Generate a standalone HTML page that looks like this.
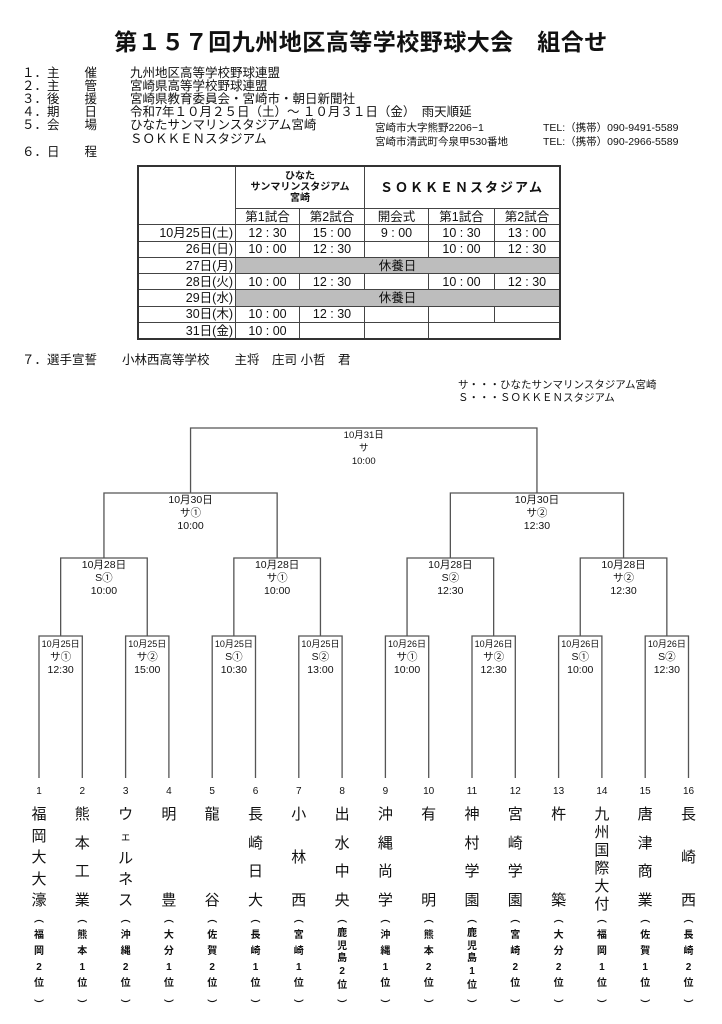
<!DOCTYPE html>
<html><head><meta charset="utf-8"><style>
body{margin:0;width:722px;height:1024px;background:#fff;position:relative;overflow:hidden;font-family:"Liberation Sans","Noto Sans CJK JP",sans-serif;color:#111}
.a{position:absolute;white-space:nowrap}
.t{font-size:12.5px;line-height:13px}
table{position:absolute;left:137px;top:165px;border-collapse:collapse;font-size:12.5px}
td{border:1px solid #444;padding:0;text-align:center;height:15.3px;line-height:14px}
.lbl{position:absolute;text-align:center;font-size:10.5px;line-height:13px;width:60px;background:transparent}
.nm{position:absolute;top:806px;height:104px;width:24px;display:flex;flex-direction:column;justify-content:space-between;align-items:center;font-size:15px;line-height:18px}
.pf{position:absolute;top:914px;height:98px;width:20px;display:flex;flex-direction:column;justify-content:space-between;align-items:center;font-size:10px;line-height:12px;font-weight:bold}
.num{position:absolute;top:786px;width:24px;text-align:center;font-size:10px}
</style></head><body>
<div class="a" style="left:0;width:722px;text-align:center;top:23px;font-size:23px;font-weight:bold;letter-spacing:0.5px">第１５７回九州地区高等学校野球大会　組合せ</div>
<div class="a t" style="left:22px;top:67px">１．主　　催</div><div class="a t" style="left:130px;top:67px">九州地区高等学校野球連盟</div>
<div class="a t" style="left:22px;top:80px">２．主　　管</div><div class="a t" style="left:130px;top:80px">宮崎県高等学校野球連盟</div>
<div class="a t" style="left:22px;top:93px">３．後　　援</div><div class="a t" style="left:130px;top:93px">宮崎県教育委員会・宮崎市・朝日新聞社</div>
<div class="a t" style="left:22px;top:106px">４．期　　日</div><div class="a t" style="left:130px;top:106px">令和7年１０月２５日（土）～ １０月３１日（金）　雨天順延</div>
<div class="a t" style="left:22px;top:119px">５．会　　場</div><div class="a t" style="left:130px;top:119px">ひなたサンマリンスタジアム宮崎</div>
<div class="a" style="left:375px;top:120px;font-size:10.5px">宮崎市大字熊野2206−1</div><div class="a" style="left:543px;top:120px;font-size:10.5px">TEL:（携帯）090-9491-5589</div>
<div class="a t" style="left:130px;top:133px">ＳＯＫＫＥＮスタジアム</div>
<div class="a" style="left:375px;top:134px;font-size:10.5px">宮崎市清武町今泉甲530番地</div><div class="a" style="left:543px;top:134px;font-size:10.5px">TEL:（携帯）090-2966-5589</div>
<div class="a t" style="left:22px;top:146px">６．日　　程</div>
<table>
<tr><td rowspan="2" style="width:96px;border-left:2px solid #333;border-top:2px solid #333"></td><td colspan="2" style="height:41px;font-size:10px;line-height:11px;font-weight:bold;border-top:2px solid #333">ひなた<br>サンマリンスタジアム<br>宮崎</td><td colspan="3" style="font-size:13px;font-weight:bold;letter-spacing:2px;border-top:2px solid #333;border-right:2px solid #333">ＳＯＫＫＥＮスタジアム</td></tr>
<tr><td style="width:63px">第1試合</td><td style="width:64px">第2試合</td><td style="width:63px">開会式</td><td style="width:65px">第1試合</td><td style="width:64px;border-right:2px solid #333">第2試合</td></tr>
<tr><td style="text-align:right;padding-right:2px;border-left:2px solid #333">10月25日(土)</td><td>12 : 30</td><td>15 : 00</td><td>9 : 00</td><td>10 : 30</td><td style="border-right:2px solid #333">13 : 00</td></tr>
<tr><td style="text-align:right;padding-right:2px;border-left:2px solid #333">26日(日)</td><td>10 : 00</td><td>12 : 30</td><td></td><td>10 : 00</td><td style="border-right:2px solid #333">12 : 30</td></tr>
<tr><td style="text-align:right;padding-right:2px;border-left:2px solid #333">27日(月)</td><td colspan="5" style="background:#bdbdbd;border-right:2px solid #333">休養日</td></tr>
<tr><td style="text-align:right;padding-right:2px;border-left:2px solid #333">28日(火)</td><td>10 : 00</td><td>12 : 30</td><td></td><td>10 : 00</td><td style="border-right:2px solid #333">12 : 30</td></tr>
<tr><td style="text-align:right;padding-right:2px;border-left:2px solid #333">29日(水)</td><td colspan="5" style="background:#bdbdbd;border-right:2px solid #333">休養日</td></tr>
<tr><td style="text-align:right;padding-right:2px;border-left:2px solid #333">30日(木)</td><td>10 : 00</td><td>12 : 30</td><td></td><td></td><td style="border-right:2px solid #333"></td></tr>
<tr><td style="text-align:right;padding-right:2px;border-left:2px solid #333;border-bottom:2px solid #333">31日(金)</td><td style="border-bottom:2px solid #333">10 : 00</td><td style="border-bottom:2px solid #333"></td><td style="border-bottom:2px solid #333"></td><td colspan="2" style="border-bottom:2px solid #333;border-right:2px solid #333"></td></tr>
</table>
<div class="a t" style="left:22px;top:354px">７．選手宣誓　　小林西高等学校　　主将　庄司 小哲　君</div>
<div class="a" style="left:458px;top:379px;font-size:10.5px;line-height:13px">サ・・・ひなたサンマリンスタジアム宮崎<br>Ｓ・・・ＳＯＫＫＥＮスタジアム</div>
<svg class="a" style="left:0;top:0" width="722" height="1024">
<g fill="none" stroke="#555" stroke-width="1.3">
<path id="p"/>
</g></svg>
<div id="b"></div>
<script>
var X=[];for(var i=0;i<16;i++)X.push(39+i*43.3);
var d="";
function u(x1,x2,y,yb1,yb2){d+="M"+x1+" "+yb1+"V"+y+"H"+x2+"V"+yb2;}
var r1=[],r2=[],r3=[];
for(var i=0;i<8;i++){u(X[2*i],X[2*i+1],636,778,778);r1.push((X[2*i]+X[2*i+1])/2);}
for(var i=0;i<4;i++){u(r1[2*i],r1[2*i+1],558,636,636);r2.push((r1[2*i]+r1[2*i+1])/2);}
for(var i=0;i<2;i++){u(r2[2*i],r2[2*i+1],493,558,558);r3.push((r2[2*i]+r2[2*i+1])/2);}
u(r3[0],r3[1],428,493,493);
document.getElementById("p").setAttribute("d",d);
var h="";
function L(x,y,t,fs){h+='<div class="lbl" style="left:'+(x-30)+'px;top:'+y+'px;font-size:'+(fs||10.5)+'px">'+t+'</div>';}
var a1=[["25","サ①","12:30"],["25","サ②","15:00"],["25","S①","10:30"],["25","S②","13:00"],["26","サ①","10:00"],["26","サ②","12:30"],["26","S①","10:00"],["26","S②","12:30"]];
for(var i=0;i<8;i++)L(r1[i],638,'<span style="font-size:9px">10月'+a1[i][0]+'日</span><br>'+a1[i][1]+'<br>'+a1[i][2]);
var a2=[["S①","10:00"],["サ①","10:00"],["S②","12:30"],["サ②","12:30"]];
for(var i=0;i<4;i++)L(r2[i],559,'10月28日<br>'+a2[i][0]+'<br>'+a2[i][1]);
L(r3[0],494,'10月30日<br>サ①<br>10:00');L(r3[1],494,'10月30日<br>サ②<br>12:30');
L((r3[0]+r3[1])/2,429,'10月31日<br>サ<br>10:00',9.5);
var N=["福岡大大濠","熊本工業","ウェルネス","明豊","龍谷","長崎日大","小林西","出水中央","沖縄尚学","有明","神村学園","宮崎学園","杵築","九州国際大付","唐津商業","長崎西"];
var P=["福岡2位","熊本1位","沖縄2位","大分1位","佐賀2位","長崎1位","宮崎1位","鹿児島2位","沖縄1位","熊本2位","鹿児島1位","宮崎2位","大分2位","福岡1位","佐賀1位","長崎2位"];
for(var i=0;i<16;i++){
 h+='<div class="num" style="left:'+(X[i]-12)+'px">'+(i+1)+'</div>';
 var s=N[i],c="";for(var j=0;j<s.length;j++){var ch=s[j];if(ch=="ェ")ch='<span style="font-size:11px">ェ</span>';c+='<span>'+ch+'</span>';}
 h+='<div class="nm" style="left:'+(X[i]-12)+'px">'+c+'</div>';
 var p=P[i],q='<span>︵</span>';var big=p.length>4;
 for(var j=0;j<p.length;j++){if(big&&j<3)q+='<span style="line-height:'+(j==0?'12':'10')+'px">'+p[j]+'</span>';else q+='<span>'+p[j]+'</span>';}
 q+='<span style="margin-top:6px">︶</span>';
 h+='<div class="pf" style="left:'+(X[i]-10)+'px">'+q+'</div>';
}
document.getElementById("b").innerHTML=h;
</script>
</body></html>
